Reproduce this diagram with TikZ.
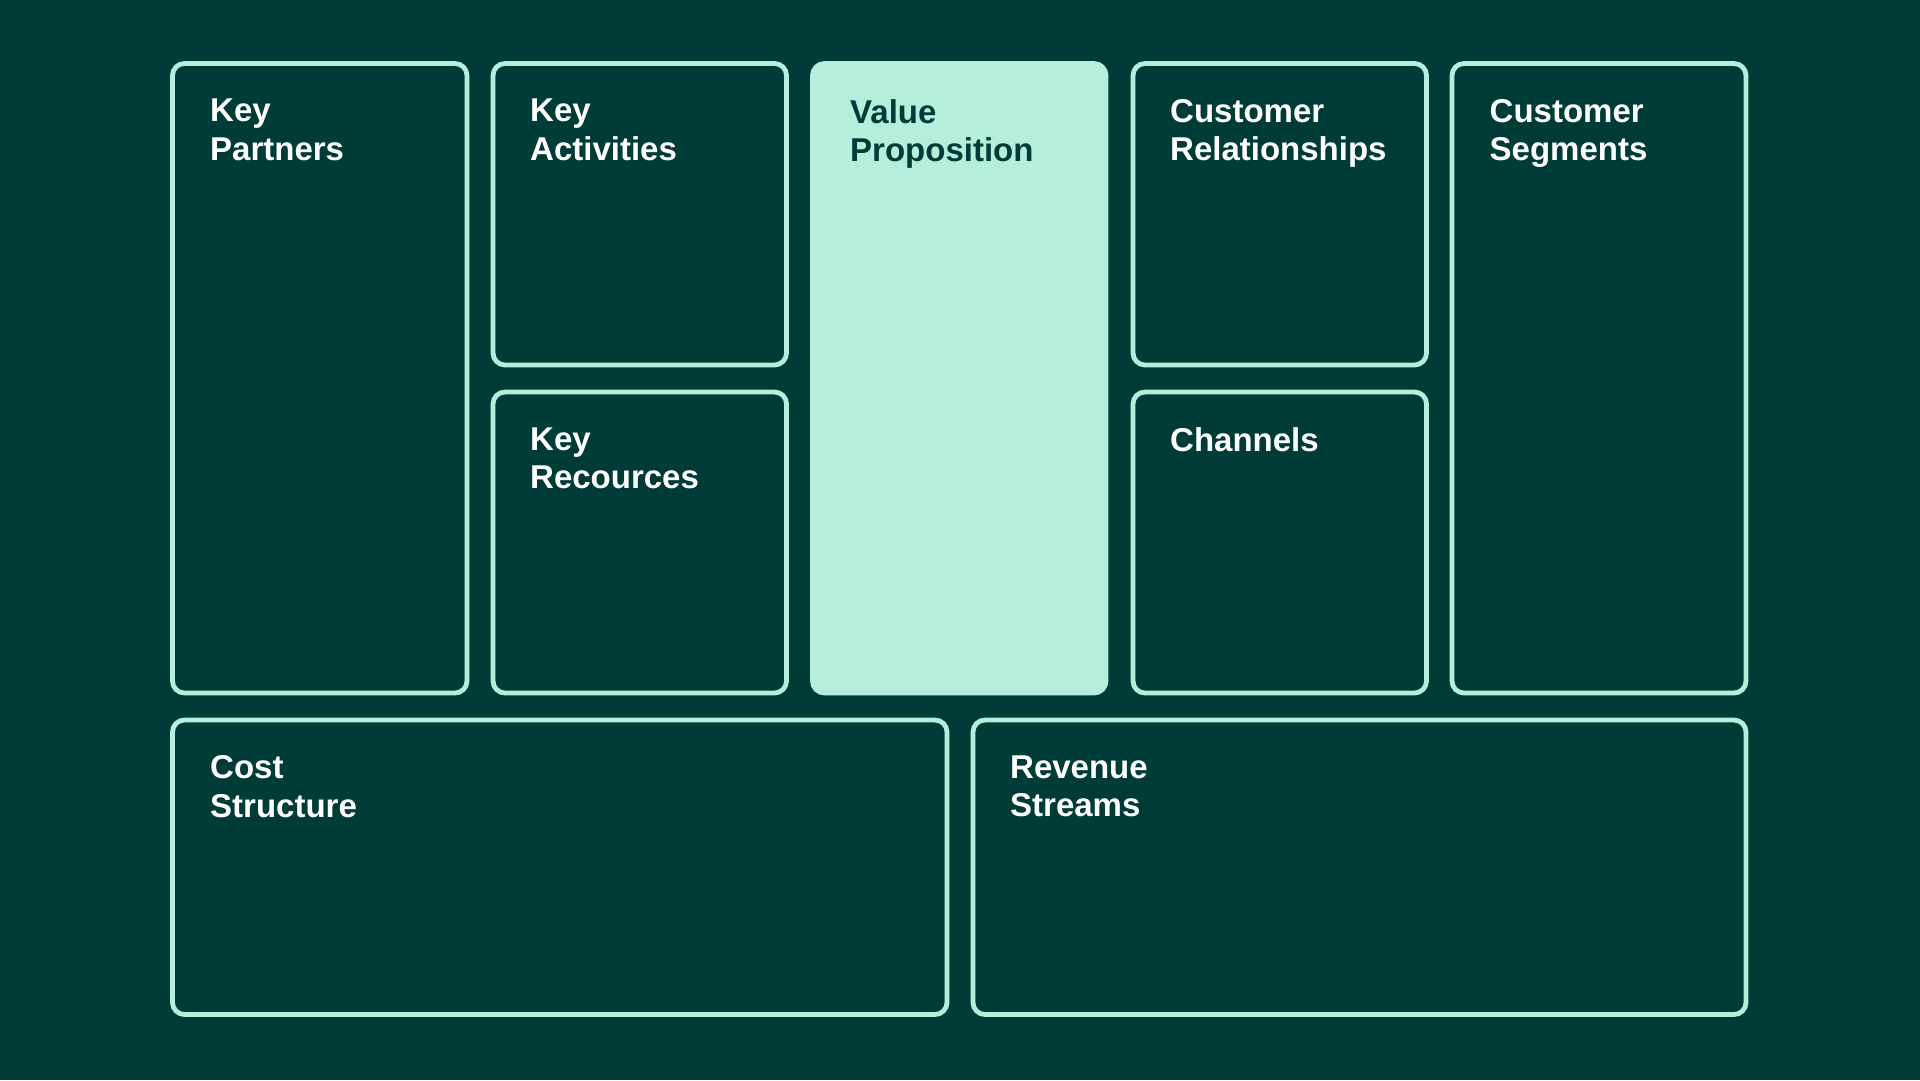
\documentclass[tikz,border=0pt]{standalone}
\usepackage{fontspec}
\setmainfont{Liberation Sans}
\definecolor{bgteal}{HTML}{003C37}
\definecolor{mint}{HTML}{B5EFDB}
\tikzset{
  cell/.style={draw=mint, line width=4.8pt, rounded corners=12pt},
  cellfill/.style={cell, fill=mint},
  celltext/.style={anchor=north west, inner sep=0pt, align=left, text=white,
    font=\fontsize{33}{38.5}\selectfont\bfseries},
  celltextdark/.style={celltext, text=bgteal}
}
\begin{document}
\begin{tikzpicture}[x=1pt, y=-1pt]
  \fill[bgteal] (0,0) rectangle (1920,1080);
  \useasboundingbox (0,0) rectangle (1920,1080);
  % upper row
  \draw[cell] (172.5,63.5) rectangle (467,693);
  \draw[cell] (493,63.5) rectangle (786.5,365);
  \draw[cell] (493,392) rectangle (786.5,693);
  \draw[cellfill] (812.5,63.5) rectangle (1106,693);
  \draw[cell] (1133,63.5) rectangle (1426.5,365);
  \draw[cell] (1133,392) rectangle (1426.5,693);
  \draw[cell] (1452,63.5) rectangle (1746,693);
  % lower row
  \draw[cell] (172.5,720) rectangle (947,1014.5);
  \draw[cell] (973,720) rectangle (1746,1014.5);
  % labels
  \node[celltext] (partners) at (210,99) {Key\\Partners};
  \node[celltext] (activities) at (530,99) {Key\\Activities};
  \node[celltext] (resources) at (530,427.5) {Key\\Recources};
  \node[celltextdark] (value) at (850,99) {Value\\Proposition};
  \node[celltext] (relations) at (1170,99) {Customer\\Relationships};
  \node[celltext] (channels) at (1170,427.5) {Channels};
  \node[celltext] (segments) at (1489.5,99) {Customer\\Segments};
  \node[celltext] (cost) at (210,755.5) {Cost\\Structure};
  \node[celltext] (revenue) at (1010,755.5) {Revenue\\Streams};
\end{tikzpicture}
\end{document}
